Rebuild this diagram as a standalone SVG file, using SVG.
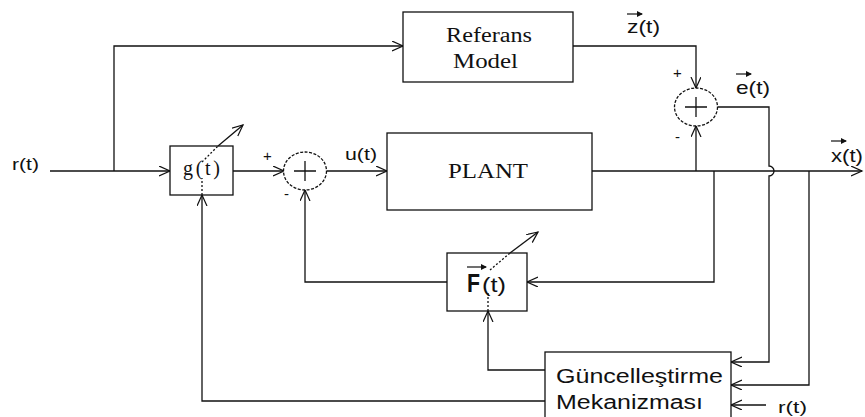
<svg xmlns="http://www.w3.org/2000/svg" width="865" height="417" viewBox="0 0 865 417">
<style>
.ln{fill:none;stroke:#111;stroke-width:1.3}
.dot{fill:none;stroke:#111;stroke-width:1.3;stroke-dasharray:2,2}
.box{fill:#fff;stroke:#111;stroke-width:1.3}
.sum{fill:#fff;stroke:#111;stroke-width:1.3;stroke-dasharray:3,1.5}
.serif{font-family:"Liberation Serif","Times New Roman",serif;fill:#111}
.sans{font-family:"Liberation Sans",Arial,sans-serif;fill:#111}
.vec{fill:none;stroke:#111;stroke-width:1.2}
</style>
<defs>
<marker id="ah" markerUnits="userSpaceOnUse" markerWidth="14" markerHeight="12" refX="11" refY="5" orient="auto">
<path d="M0,0 L11,5 L0,10" fill="none" stroke="#111" stroke-width="1.2"/>
</marker>
<marker id="vh" markerUnits="userSpaceOnUse" markerWidth="8" markerHeight="8" refX="5" refY="3" orient="auto">
<path d="M0,0 L6,3 L0,6 Z" fill="#111"/>
</marker>
</defs>
<g id="connectors">
<path class="ln" d="M50,171 L170,171" marker-end="url(#ah)"/>
<path class="ln" d="M114,171 L114,46 L403,46" marker-end="url(#ah)"/>
<path class="ln" d="M233,171 L284,171" marker-end="url(#ah)"/>
<path class="ln" d="M327,171 L387,171" marker-end="url(#ah)"/>
<path class="ln" d="M573,46 L696,46 L696,88" marker-end="url(#ah)"/>
<path class="ln" d="M592,171 L862,171" marker-end="url(#ah)"/>
<path class="ln" d="M696,171 L696,126" marker-end="url(#ah)"/>
<path class="ln" d="M714,171 L714,282 L527,282" marker-end="url(#ah)"/>
<path class="ln" d="M447,282 L305,282 L305,190" marker-end="url(#ah)"/>
<path class="ln" d="M718,107 L769,107 L769,166 A5,5 0 0 1 769,176 L769,362 L731,362" marker-end="url(#ah)"/>
<path class="ln" d="M809,171 L809,385 L731,385" marker-end="url(#ah)"/>
<path class="ln" d="M766,405 L731,405" marker-end="url(#ah)"/>
<path class="ln" d="M545,370 L488,370 L488,311" marker-end="url(#ah)"/>
<path class="ln" d="M545,401 L202,401 L202,195" marker-end="url(#ah)"/>
</g>
<g id="referans">
<rect class="box" x="403" y="12" width="170" height="70"/>
<text class="serif" x="446" y="42" font-size="20" textLength="86" lengthAdjust="spacingAndGlyphs">Referans</text>
<text class="serif" x="453" y="68" font-size="20" textLength="65" lengthAdjust="spacingAndGlyphs">Model</text>
</g>
<g id="plant">
<rect class="box" x="387" y="133" width="205" height="77"/>
<text class="serif" x="448" y="178" font-size="20" textLength="80" lengthAdjust="spacingAndGlyphs">PLANT</text>
</g>
<g id="g">
<rect class="box" x="170" y="146" width="63" height="49"/>
<text class="serif" x="183" y="175" font-size="20" textLength="37" lengthAdjust="spacing">g(t)</text>
<path class="dot" d="M202,195 L202,178"/>
<path class="dot" d="M202,162 L218,146"/>
<path class="ln" d="M218,146 L243,125" marker-end="url(#ah)"/>
</g>
<g id="sum1">
<ellipse class="sum" cx="305" cy="171" rx="21.5" ry="19"/>
<path class="ln" d="M294,171 L316,171 M305,161 L305,181"/>
<text class="sans" x="263" y="161" font-size="15">+</text>
<text class="sans" x="284" y="199" font-size="15">-</text>
</g>
<g id="sum2">
<ellipse class="sum" cx="696" cy="107" rx="21.5" ry="19"/>
<path class="ln" d="M685,107 L707,107 M696,97 L696,117"/>
<text class="sans" x="673" y="78" font-size="15">+</text>
<text class="sans" x="675" y="142" font-size="15">-</text>
</g>
<g id="F">
<rect class="box" x="447" y="253" width="80" height="58"/>
<text class="sans" x="467" y="292" font-size="26" font-weight="bold" textLength="13" lengthAdjust="spacingAndGlyphs">F</text>
<text class="sans" x="482" y="292" font-size="20" textLength="24" lengthAdjust="spacingAndGlyphs">(t)</text>
<path class="vec" d="M467,267 L486,267" marker-end="url(#vh)"/>
<path class="dot" d="M488,311 L488,293"/>
<path class="dot" d="M490,270 L510,253"/>
<path class="ln" d="M510,253 L538,232" marker-end="url(#ah)"/>
</g>
<g id="guncel">
<rect class="box" x="545" y="352" width="186" height="70"/>
<text class="sans" x="556" y="383" font-size="20" textLength="167" lengthAdjust="spacingAndGlyphs">Güncelleştirme</text>
<text class="sans" x="556" y="409" font-size="20" textLength="147" lengthAdjust="spacingAndGlyphs">Mekanizması</text>
</g>
<g id="labels">
<text class="sans" x="12" y="170" font-size="17" textLength="27" lengthAdjust="spacingAndGlyphs">r(t)</text>
<text class="sans" x="778" y="413" font-size="17" textLength="29" lengthAdjust="spacingAndGlyphs">r(t)</text>
<text class="sans" x="345" y="160" font-size="17" textLength="32" lengthAdjust="spacingAndGlyphs">u(t)</text>
<text class="sans" x="627" y="33" font-size="18" textLength="33" lengthAdjust="spacingAndGlyphs">z(t)</text>
<path class="vec" d="M627,14 L642,14" marker-end="url(#vh)"/>
<text class="sans" x="736" y="94" font-size="18" textLength="34" lengthAdjust="spacingAndGlyphs">e(t)</text>
<path class="vec" d="M736,74 L751,74" marker-end="url(#vh)"/>
<text class="sans" x="831" y="162" font-size="18" textLength="32" lengthAdjust="spacingAndGlyphs">x(t)</text>
<path class="vec" d="M831,141 L846,141" marker-end="url(#vh)"/>
</g>
</svg>
